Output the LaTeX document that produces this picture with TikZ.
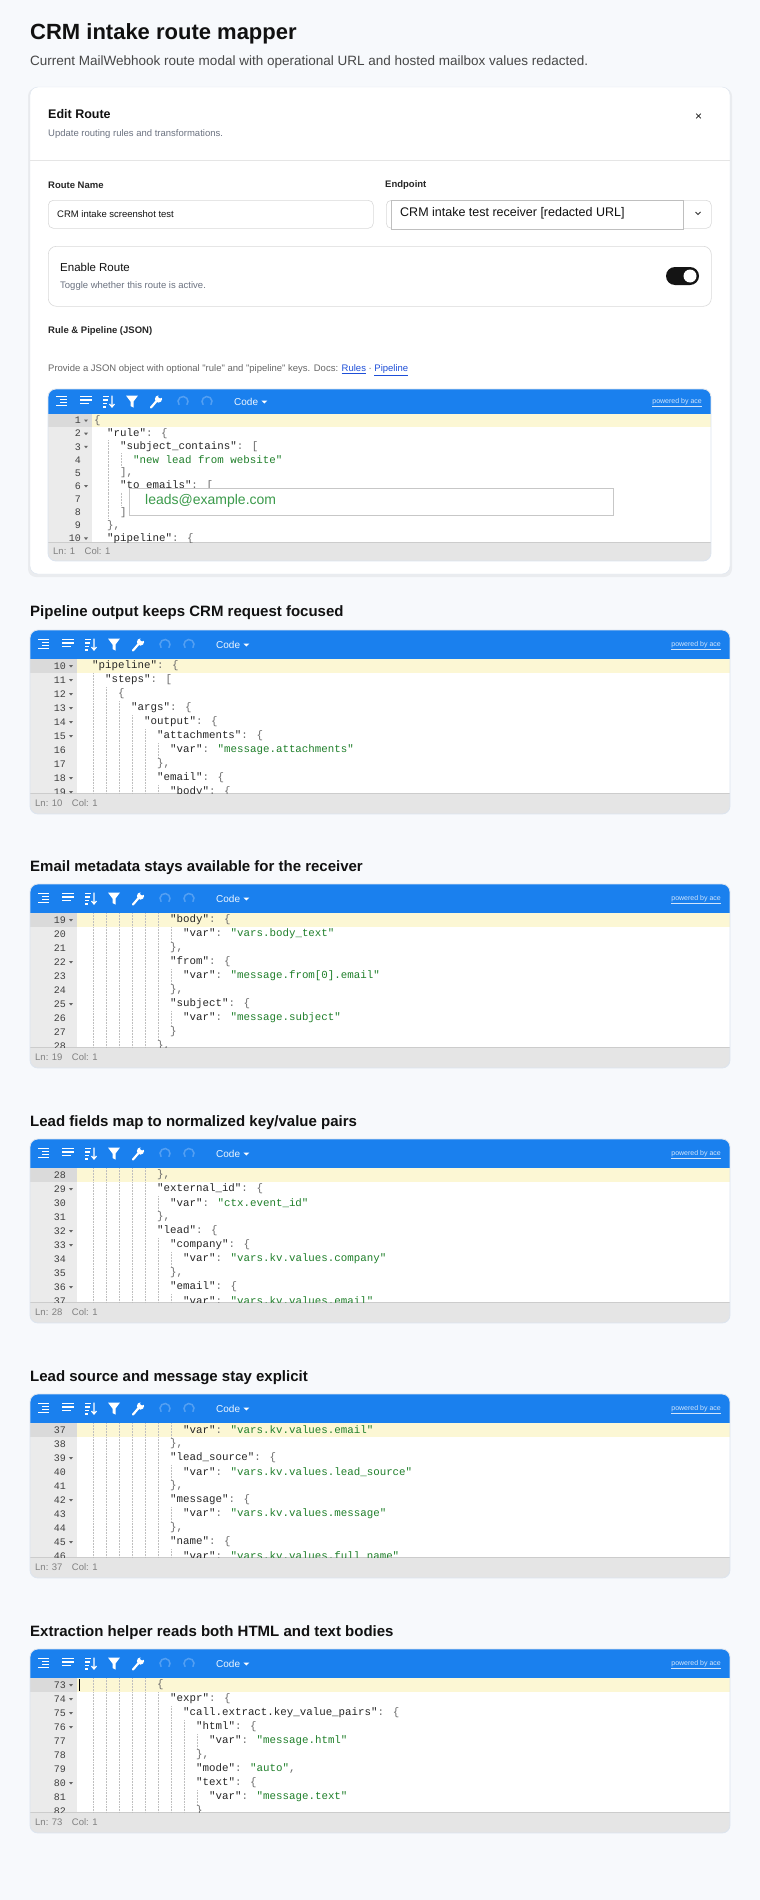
\documentclass[tikz,border=0pt]{standalone}
\usepackage{fontspec}
\newfontfamily\uisans{Liberation Sans}
\newfontfamily\uimono{Liberation Mono}
\definecolor{pagebg}{HTML}{F7F9FC}
\definecolor{tbblue}{HTML}{1A80EE}
\definecolor{hl}{HTML}{FCF7D4}
\definecolor{gutter}{HTML}{EBEBEB}
\definecolor{gutteract}{HTML}{DADADA}
\definecolor{statusbg}{HTML}{E5E5E5}
\definecolor{jsgreen}{HTML}{1F7F2A}
\definecolor{jspunct}{HTML}{6A6A6A}
\definecolor{edgecol}{HTML}{DCE4EE}
\definecolor{ink}{HTML}{111111}
\definecolor{muted}{HTML}{6B7280}
\definecolor{linkblue}{HTML}{1D4ED8}
\definecolor{leadgreen}{HTML}{3A9A4A}
\newcommand\jkey[1]{"#1"}
\newcommand\jstr[1]{{\color{jsgreen}"#1"}}
\newcommand\jp[1]{{\color{jspunct}#1}}
\tikzset{
  txt/.style={inner sep=0pt,anchor=west,font=\uisans,text=ink},
  num/.style={inner sep=0pt,anchor=east,font=\uimono\fontsize{10}{12}\selectfont,text=black!75},
  code/.style={inner sep=0pt,anchor=west,font=\uimono\fontsize{10.8}{12}\selectfont,text=black!85},
  guide/.style={draw=black!25,densely dotted,line width=0.5pt},
  tbicon/.style={draw=white,line width=1.4pt},
  box/.style={draw=black!15,line width=0.6pt,rounded corners=5pt,fill=white},
}
\newcommand\editorframe[1]{%
  \begin{scope}
    \clip[rounded corners=8pt] (\L,\T) rectangle (\R,\B);
    \fill[white] (\L,\T) rectangle (\R,\B);
    \fill[tbblue] (\L,\T) rectangle (\R,\CT);
    \fill[gutter] (\L,\CT) rectangle (\L+\GW,\ST);
    \fill[hl] (\L+\GW,\CT) rectangle (\R,\CT+\ph);
    \fill[gutteract] (\L,\CT) rectangle (\L+\GW,\CT+\ph);
    \fill[statusbg] (\L,\ST) rectangle (\R,\B);
    \draw[black!20] (\L,\ST)--(\R,\ST);
  \end{scope}
  \draw[rounded corners=8pt,edgecol,line width=0.8pt] (\L,\T) rectangle (\R,\B);
  \pgfmathsetmacro\ty{(\T+\CT)/2}
  \begin{scope}[shift={(\L+14,\ty)}]
    \draw[tbicon,line width=1.2pt] (-6,-5)--(5,-5) (-2,-2)--(5,-2) (-2,1)--(5,1) (-6,4)--(5,4);
  \end{scope}
  \begin{scope}[shift={(\L+38,\ty)}]
    \draw[tbicon,line width=1.2pt] (-6,-5)--(6,-5) (-6,-1.5)--(6,-1.5) (-6,2)--(3,2);
  \end{scope}
  \begin{scope}[shift={(\L+61,\ty)}]
    \draw[tbicon,line width=1.2pt] (-6,-5)--(0,-5) (-6,-1.5)--(-1,-1.5) (-6,2)--(-2,2) (-6,5.5)--(-3,5.5);
    \draw[tbicon,line width=1.2pt] (3,-6)--(3,5) (0.5,2.5)--(3,5.5)--(5.5,2.5);
  \end{scope}
  \begin{scope}[shift={(\L+84,\ty)}]
    \fill[white] (-6,-6)--(6,-6)--(1.5,0)--(1.5,6)--(-1.5,4.5)--(-1.5,0)--cycle;
  \end{scope}
  \begin{scope}[shift={(\L+108,\ty)}]
    \draw[white,line width=2.2pt,line cap=round] (-5,6)--(1,-1);
    \fill[white] (2.5,-2.5) circle (3.6pt);
    \fill[tbblue] (4.2,-5.2) circle (2pt);
  \end{scope}
  \begin{scope}[shift={(\L+135,\ty)}]
    \draw[white,opacity=0.25,line width=1.5pt] (0,0) ++(140:5) arc (140:400:5);
  \end{scope}
  \begin{scope}[shift={(\L+159,\ty)}]
    \draw[white,opacity=0.25,line width=1.5pt] (0,0) ++(400:5) arc (400:140:5);
  \end{scope}
  \node[txt,text=white!92!tbblue,font=\uisans\fontsize{10}{12}\selectfont] (codelbl) at (\L+186,\ty) {Code};
  \fill[white] ([xshift=3pt,yshift=1pt]codelbl.east) -- ++(6,0) -- ++(-3,3) -- cycle;
  \node[txt,anchor=east,text=white!80!tbblue,font=\uisans\fontsize{7}{8}\selectfont] (pwr) at (\R-9,\ty+1) {\underline{powered by ace}};
  \node[txt,text=black!50,font=\uisans\fontsize{9.5}{11}\selectfont] (status) at (\L+5,{(\ST+\B)/2}) {#1};
}
\newcommand\cl[5]{%
  \pgfmathsetmacro\yy{\CT+\ph/2+\ph*#1}%
  \node[num] at (\L+\GW-11,\yy) {#2};%
  \ifx f#3\fill[black!60] (\L+\GW-8,\yy-1) -- (\L+\GW-4,\yy-1) -- (\L+\GW-6,\yy+1.5) -- cycle;\fi
  \ifnum#4>1
    \foreach \k in {1,...,\numexpr#4-1\relax}{\draw[guide] (\L+\GW+2+13*\k+1,\yy-\ph/2) -- (\L+\GW+2+13*\k+1,\yy+\ph/2);}%
  \fi
  \node[code] at (\L+\GW+2+13*#4,\yy) {#5};%
}
\begin{document}
\begin{tikzpicture}[x=1pt,y=-1pt]
\useasboundingbox (0,0) rectangle (760,1900);
\fill[pagebg] (0,0) rectangle (760,1900);
\node[txt,font=\uisans\bfseries\fontsize{22}{26}\selectfont] (title) at (30,34) {CRM intake route mapper};
\node[txt,text=black!72,font=\uisans\fontsize{13.5}{16}\selectfont] (subtitle) at (30,62) {Current MailWebhook route modal with operational URL and hosted mailbox values redacted.};
\fill[black,opacity=0.05,rounded corners=8pt] (28,88) rectangle (732,577);
\fill[white,draw=edgecol,rounded corners=8pt] (30,87) rectangle (730,574);
\node[txt,font=\uisans\bfseries\fontsize{12.5}{15}\selectfont] (edit) at (48,114) {Edit Route};
\node[txt,text=muted,font=\uisans\fontsize{9.5}{11}\selectfont] (editsub) at (48,134) {Update routing rules and transformations.};
\node[txt,font=\uisans\fontsize{12}{14}\selectfont] (close) at (695,117) {×};
\draw[black!10,line width=0.8pt] (30,160) -- (730,160);
\node[txt,font=\uisans\bfseries\fontsize{9.5}{11}\selectfont,text=black!85] (rnlabel) at (48,185) {Route Name};
\node[box,minimum width=325pt,minimum height=28pt,anchor=north west] (rnbox) at (48,200) {};
\node[txt,font=\uisans\fontsize{9.5}{11}\selectfont] (rntext) at (57,214) {CRM intake screenshot test};
\node[txt,font=\uisans\bfseries\fontsize{9.5}{11}\selectfont,text=black!85] (eplabel) at (385,185) {Endpoint};
\node[box,minimum width=325pt,minimum height=28pt,anchor=north west] (epbox) at (386,200) {};
\node[draw=black!25,fill=white,minimum width=292pt,minimum height=29pt,anchor=north west,inner sep=0pt] (epinner) at (391,199.5) {};
\node[txt,font=\uisans\fontsize{12.5}{15}\selectfont] (eptext) at (400,213) {CRM intake test receiver [redacted URL]};
\draw[black!80,line width=0.9pt] (695.5,212) -- (698,214.5) -- (700.5,212);
\node[box,rounded corners=8pt,minimum width=663pt,minimum height=60pt,anchor=north west] (enbox) at (48,246) {};
\node[txt,font=\uisans\fontsize{11.5}{14}\selectfont] (entitle) at (60,267) {Enable Route};
\node[txt,text=muted,font=\uisans\fontsize{9.5}{11}\selectfont] (ensub) at (60,286) {Toggle whether this route is active.};
\fill[black!92,rounded corners=9pt] (666,267) rectangle (699,285);
\fill[white] (690,276) circle (6.5pt);
\node[txt,font=\uisans\bfseries\fontsize{9.5}{11}\selectfont,text=black!85] (rplabel) at (48,331) {Rule \& Pipeline (JSON)};
\node[txt,text=black!60,font=\uisans\fontsize{9.5}{11}\selectfont] (provide) at (48,370) {Provide a JSON object with optional "rule" and "pipeline" keys. Docs: {\color{linkblue}\underline{Rules}} · {\color{linkblue}\underline{Pipeline}}};
\def\L{48}\def\R{711}\def\T{389}\def\CT{414}\def\ST{542}\def\B{561}\def\GW{44}\def\ph{13.1}
\editorframe{Ln: 1\quad Col: 1}
\begin{scope}
\clip (\L,\CT) rectangle (\R,\ST);
\cl{0}{1}{f}{0}{\jp{\{}}
\cl{1}{2}{f}{1}{\jkey{rule}\jp{: \{}}
\cl{2}{3}{f}{2}{\jkey{subject\_contains}\jp{: [}}
\cl{3}{4}{-}{3}{\jstr{new lead from website}}
\cl{4}{5}{-}{2}{\jp{],}}
\cl{5}{6}{f}{2}{\jkey{to\_emails}\jp{: [}}
\cl{6}{7}{-}{3}{}
\cl{7}{8}{-}{2}{\jp{]}}
\cl{8}{9}{-}{1}{\jp{\},}}
\cl{9}{10}{f}{1}{\jkey{pipeline}\jp{: \{}}
\end{scope}
\fill[white,draw=black!22,line width=0.7pt] (129,488) rectangle (613,515);
\node[txt,text=leadgreen,font=\uisans\fontsize{14}{16}\selectfont] (leads) at (145,501) {leads@example.com};
\node[txt,font=\uisans\bfseries\fontsize{15}{18}\selectfont] (h2) at (30,613) {Pipeline output keeps CRM request focused};
\def\L{30}\def\R{730}\def\T{630}\def\CT{659}\def\ST{793}\def\B{814}\def\GW{47}\def\ph{14}
\editorframe{Ln: 10\quad Col: 1}
\begin{scope}
\clip (\L,\CT) rectangle (\R,\ST);
\cl{0}{10}{f}{1}{\jkey{pipeline}\jp{: \{}}
\cl{1}{11}{f}{2}{\jkey{steps}\jp{: [}}
\cl{2}{12}{f}{3}{\jp{\{}}
\cl{3}{13}{f}{4}{\jkey{args}\jp{: \{}}
\cl{4}{14}{f}{5}{\jkey{output}\jp{: \{}}
\cl{5}{15}{f}{6}{\jkey{attachments}\jp{: \{}}
\cl{6}{16}{-}{7}{\jkey{var}\jp{: }\jstr{message.attachments}}
\cl{7}{17}{-}{6}{\jp{\},}}
\cl{8}{18}{f}{6}{\jkey{email}\jp{: \{}}
\cl{9}{19}{f}{7}{\jkey{body}\jp{: \{}}
\end{scope}
\node[txt,font=\uisans\bfseries\fontsize{15}{18}\selectfont] (h3) at (30,868) {Email metadata stays available for the receiver};
\def\T{884}\def\CT{913}\def\ST{1047}\def\B{1068}
\editorframe{Ln: 19\quad Col: 1}
\begin{scope}
\clip (\L,\CT) rectangle (\R,\ST);
\cl{0}{19}{f}{7}{\jkey{body}\jp{: \{}}
\cl{1}{20}{-}{8}{\jkey{var}\jp{: }\jstr{vars.body\_text}}
\cl{2}{21}{-}{7}{\jp{\},}}
\cl{3}{22}{f}{7}{\jkey{from}\jp{: \{}}
\cl{4}{23}{-}{8}{\jkey{var}\jp{: }\jstr{message.from[0].email}}
\cl{5}{24}{-}{7}{\jp{\},}}
\cl{6}{25}{f}{7}{\jkey{subject}\jp{: \{}}
\cl{7}{26}{-}{8}{\jkey{var}\jp{: }\jstr{message.subject}}
\cl{8}{27}{-}{7}{\jp{\}}}
\cl{9}{28}{-}{6}{\jp{\},}}
\end{scope}
\node[txt,font=\uisans\bfseries\fontsize{15}{18}\selectfont] (h4) at (30,1123) {Lead fields map to normalized key/value pairs};
\def\T{1139}\def\CT{1168}\def\ST{1302}\def\B{1323}
\editorframe{Ln: 28\quad Col: 1}
\begin{scope}
\clip (\L,\CT) rectangle (\R,\ST);
\cl{0}{28}{-}{6}{\jp{\},}}
\cl{1}{29}{f}{6}{\jkey{external\_id}\jp{: \{}}
\cl{2}{30}{-}{7}{\jkey{var}\jp{: }\jstr{ctx.event\_id}}
\cl{3}{31}{-}{6}{\jp{\},}}
\cl{4}{32}{f}{6}{\jkey{lead}\jp{: \{}}
\cl{5}{33}{f}{7}{\jkey{company}\jp{: \{}}
\cl{6}{34}{-}{8}{\jkey{var}\jp{: }\jstr{vars.kv.values.company}}
\cl{7}{35}{-}{7}{\jp{\},}}
\cl{8}{36}{f}{7}{\jkey{email}\jp{: \{}}
\cl{9}{37}{-}{8}{\jkey{var}\jp{: }\jstr{vars.kv.values.email}}
\end{scope}
\node[txt,font=\uisans\bfseries\fontsize{15}{18}\selectfont] (h5) at (30,1378) {Lead source and message stay explicit};
\def\T{1394}\def\CT{1423}\def\ST{1557}\def\B{1578}
\editorframe{Ln: 37\quad Col: 1}
\begin{scope}
\clip (\L,\CT) rectangle (\R,\ST);
\cl{0}{37}{-}{8}{\jkey{var}\jp{: }\jstr{vars.kv.values.email}}
\cl{1}{38}{-}{7}{\jp{\},}}
\cl{2}{39}{f}{7}{\jkey{lead\_source}\jp{: \{}}
\cl{3}{40}{-}{8}{\jkey{var}\jp{: }\jstr{vars.kv.values.lead\_source}}
\cl{4}{41}{-}{7}{\jp{\},}}
\cl{5}{42}{f}{7}{\jkey{message}\jp{: \{}}
\cl{6}{43}{-}{8}{\jkey{var}\jp{: }\jstr{vars.kv.values.message}}
\cl{7}{44}{-}{7}{\jp{\},}}
\cl{8}{45}{f}{7}{\jkey{name}\jp{: \{}}
\cl{9}{46}{-}{8}{\jkey{var}\jp{: }\jstr{vars.kv.values.full\_name}}
\end{scope}
\node[txt,font=\uisans\bfseries\fontsize{15}{18}\selectfont] (h6) at (30,1633) {Extraction helper reads both HTML and text bodies};
\def\T{1649}\def\CT{1678}\def\ST{1812}\def\B{1833}
\editorframe{Ln: 73\quad Col: 1}
\begin{scope}
\clip (\L,\CT) rectangle (\R,\ST);
\cl{0}{73}{f}{6}{\jp{\{}}
\cl{1}{74}{f}{7}{\jkey{expr}\jp{: \{}}
\cl{2}{75}{f}{8}{\jkey{call.extract.key\_value\_pairs}\jp{: \{}}
\cl{3}{76}{f}{9}{\jkey{html}\jp{: \{}}
\cl{4}{77}{-}{10}{\jkey{var}\jp{: }\jstr{message.html}}
\cl{5}{78}{-}{9}{\jp{\},}}
\cl{6}{79}{-}{9}{\jkey{mode}\jp{: }\jstr{auto}\jp{,}}
\cl{7}{80}{f}{9}{\jkey{text}\jp{: \{}}
\cl{8}{81}{-}{10}{\jkey{var}\jp{: }\jstr{message.text}}
\cl{9}{82}{-}{9}{\jp{\}}}
\draw[black,line width=0.9pt] (\L+\GW+2,\CT+1) -- (\L+\GW+2,\CT+13);
\end{scope}
\end{tikzpicture}
\end{document}
